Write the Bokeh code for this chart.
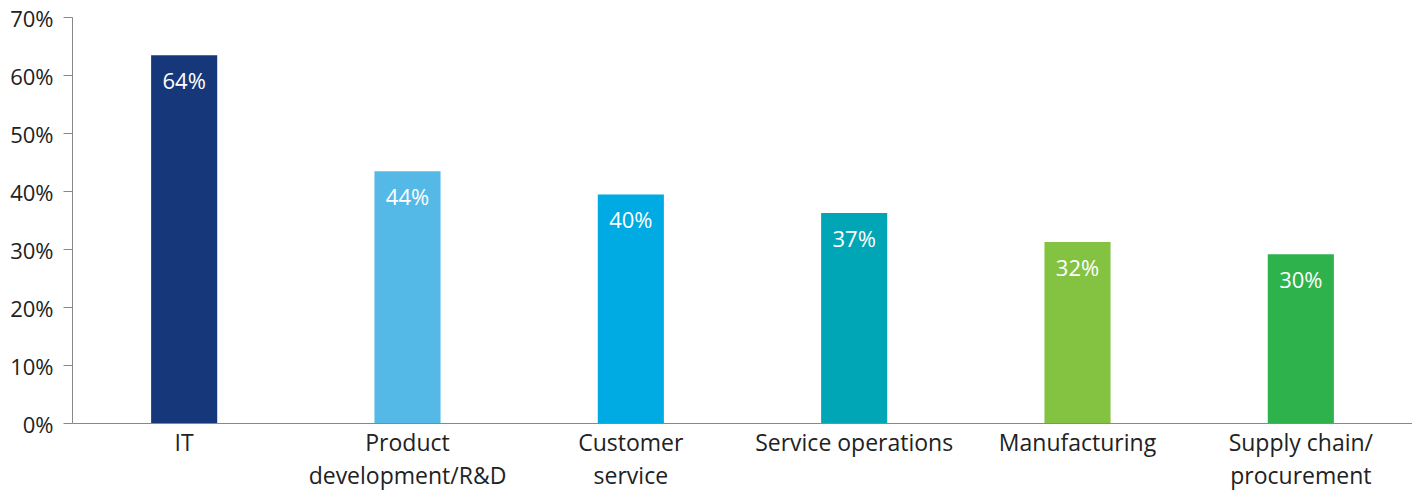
from bokeh.plotting import figure
from bokeh.models import ColumnDataSource, FactorRange, Range1d, FixedTicker
from bokeh.core.properties import value
from bokeh.embed import file_html
from bokeh.resources import INLINE

categories = ["IT", "Product\ndevelopment/R&D", "Customer\nservice",
              "Service operations", "Manufacturing", "Supply chain/\nprocurement"]
values = [63.5, 43.5, 39.5, 36.3, 31.3, 29.2]
value_labels = ["64%", "44%", "40%", "37%", "32%", "30%"]
colors = ["#17377B", "#55B9E8", "#00AAE3", "#00A6B6", "#84C242", "#2EB24B"]
y_ticks = [0, 10, 20, 30, 40, 50, 60, 70]

FONT = "Open Sans"

src = ColumnDataSource(dict(cat=categories, val=values, lab=value_labels, col=colors))

p = figure(x_range=FactorRange(*categories, range_padding=0.0),
           y_range=Range1d(0, 70),
           width=1412, height=494, output_backend="svg", toolbar_location=None,
           min_border_left=72, min_border_top=17, min_border_right=0, min_border_bottom=0)

p.vbar(x="cat", top="val", width=0.296, color="col", source=src, line_color=None)
p.text(x="cat", y="val", text="lab", source=src, text_align="center", text_baseline="top",
       y_offset=10, text_color="white", text_font=value(FONT), text_font_size="22px")

p.xgrid.visible = False
p.ygrid.visible = False
p.outline_line_color = None
p.background_fill_color = "white"

p.yaxis.ticker = FixedTicker(ticks=y_ticks)
p.yaxis.major_label_overrides = {t: f"{t}%" for t in y_ticks}
p.yaxis.axis_line_color = "#888888"
p.yaxis.major_tick_line_color = "#888888"
p.yaxis.major_tick_out = 9
p.yaxis.major_tick_in = 0
p.yaxis.minor_tick_line_color = None
p.yaxis.major_label_standoff = 10
p.yaxis.major_label_text_font = FONT
p.yaxis.major_label_text_font_size = "22px"
p.yaxis.major_label_text_color = "#222222"

p.xaxis.axis_line_color = "#888888"
p.xaxis.major_tick_line_color = None
p.xaxis.major_tick_out = 0
p.xaxis.major_tick_in = 0
p.xaxis.major_label_standoff = 2
p.xaxis.major_label_text_font = FONT
p.xaxis.major_label_text_font_size = "23px"
p.xaxis.major_label_text_color = "#222222"
p.xaxis.major_label_text_line_height = 1.05

open("out.html", "w").write(file_html(p, INLINE))
